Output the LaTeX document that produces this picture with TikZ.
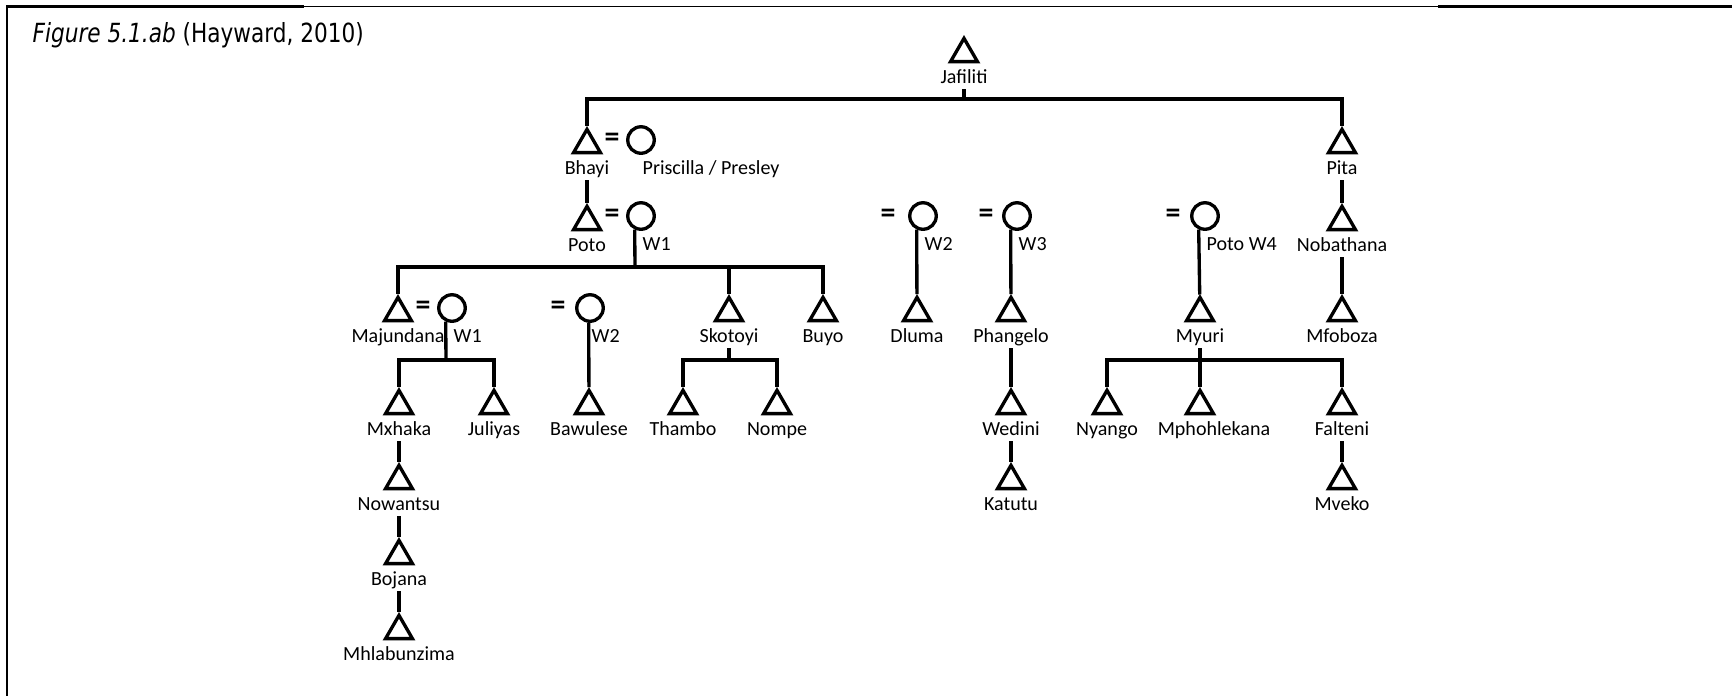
\documentclass[tikz,border=0pt]{standalone}
\usepackage{fontspec}
\setmainfont{Carlito}
\newfontfamily\titlefont[FakeStretch=0.82]{DejaVu Sans}
\usetikzlibrary{shapes.geometric}

\tikzset{
	male/.style={draw, regular polygon, regular polygon sides=3, minimum size=6.2mm, inner sep=0pt, anchor=north},
	female/.style={draw, circle, minimum size=5.3mm, inner sep=0pt},
	eq/.style={font=\fontsize{17pt}{19pt}\selectfont\bfseries, inner sep=0pt},
	every label/.style={font=\fontsize{11.4pt}{13pt}\selectfont, inner sep=0pt, text height=8pt, text depth=2.5pt},
	label distance=2.4pt
}

\begin{document}
\begin{tikzpicture}[x=0.2mm, y=-0.2mm, line width=1.9pt]
	\useasboundingbox (0,0) rectangle (1732,696);
	\draw[line width=1.2pt] (7.3,6.5) -- (7.3,696);
	\draw[line width=1.2pt] (6.3,6.5) -- (304,6.5);
	\draw[line width=0.8pt] (304,6.5) -- (1438,6.5);
	\draw[line width=1.2pt] (1438,6.5) -- (1732,6.5);
	\node[anchor=base west, inner sep=0pt, font=\titlefont\fontsize{15pt}{17pt}\selectfont] (title) at (31,42) {\textit{Figure 5.1.ab} (Hayward, 2010)};

	\node[male, label={[name=jafiliti-l]below:Jafiliti}] (jafiliti) at (964,35) {};

	\node[male, label={[name=bhayi-l]below:Bhayi}] (bhayi) at (587,126) {};
	\node[eq] (eq-bhayi) at (612,140) {=};
	\node[female, label={[name=priscilla-l, anchor=north west]below:Priscilla / Presley}] (priscilla) at (641,140) {};
	\node[male, label={[name=pita-l]below:Pita}] (pita) at (1342,126) {};

	\node[male, label={[name=poto-l]below:Poto}] (poto) at (587,203) {};
	\node[eq] (eq-poto) at (612,216) {=};
	\node[female, label={[anchor=north west]below:W1}] (potow1) at (641,216) {};
	\node[eq] (eq-w2) at (888,216) {=};
	\node[female, label={[anchor=north west]below:W2}] (potow2) at (923,216) {};
	\node[eq] (eq-w3) at (986,216) {=};
	\node[female, label={[anchor=north west]below:W3}] (potow3) at (1017,216) {};
	\node[eq] (eq-w4) at (1173,216) {=};
	\node[female, label={[anchor=north west]below:Poto W4}] (potow4) at (1205,216) {};
	\node[male, label={[name=nobathana-l]below:Nobathana}] (nobathana) at (1342,203) {};

	\node[male, label={[name=majundana-l]below:Majundana}] (majundana) at (398,294) {};
	\node[eq] (eq-maj) at (423,308) {=};
	\node[female, label={[anchor=north west]below:W1}] (majw1) at (452,308) {};
	\node[eq] (eq-baw) at (558,308) {=};
	\node[female, label={[anchor=north west]below:W2}] (bawm) at (590,308) {};
	\node[male, label={[name=skotoyi-l]below:Skotoyi}] (skotoyi) at (729,294) {};
	\node[male, label={[name=buyo-l]below:Buyo}] (buyo) at (823,294) {};
	\node[male, label={[name=dluma-l]below:Dluma}] (dluma) at (917,294) {};
	\node[male, label={[name=phangelo-l]below:Phangelo}] (phangelo) at (1011,294) {};
	\node[male, label={[name=myuri-l]below:Myuri}] (myuri) at (1200,294) {};
	\node[male, label={[name=mfoboza-l]below:Mfoboza}] (mfoboza) at (1342,294) {};

	\node[male, label={[name=mxhaka-l]below:Mxhaka}] (mxhaka) at (399,387) {};
	\node[male, label={[name=juliyas-l]below:Juliyas}] (juliyas) at (494,387) {};
	\node[male, label={[name=bawulese-l]below:Bawulese}] (bawulese) at (589,387) {};
	\node[male, label={[name=thambo-l]below:Thambo}] (thambo) at (683,387) {};
	\node[male, label={[name=nompe-l]below:Nompe}] (nompe) at (777,387) {};
	\node[male, label={[name=wedini-l]below:Wedini}] (wedini) at (1011,387) {};
	\node[male, label={[name=nyango-l]below:Nyango}] (nyango) at (1107,387) {};
	\node[male, label={[name=mphohlekana-l, xshift=2.8mm]below:Mphohlekana}] (mphohlekana) at (1200,387) {};
	\node[male, label={[name=falteni-l]below:Falteni}] (falteni) at (1342,387) {};

	\node[male, label={[name=nowantsu-l]below:Nowantsu}] (nowantsu) at (399,462) {};
	\node[male, label={[name=katutu-l]below:Katutu}] (katutu) at (1011,462) {};
	\node[male, label={[name=mveko-l]below:Mveko}] (mveko) at (1342,462) {};
	\node[male, label={[name=bojana-l]below:Bojana}] (bojana) at (399,537) {};
	\node[male, label={[name=mhlabunzima-l]below:Mhlabunzima}] (mhlabunzima) at (399,612) {};

	\coordinate (bar0) at (964,99);
	\coordinate (bar1) at (635,267);
	\coordinate (bar2) at (446,360);
	\coordinate (bar3) at (729,360);
	\coordinate (bar4) at (1200,360);

	\draw (jafiliti-l) -- (bar0);
	\draw (bhayi.north) |- (bar0) -| (pita.north);
	\draw (bhayi-l) -- (poto);
	\draw (pita-l) -- (nobathana);
	\draw (nobathana-l) -- (mfoboza);
	\draw (potow1.245) -- (bar1);
	\draw (majundana.north) |- (bar1) -| (buyo.north);
	\draw (skotoyi.north) -- (skotoyi.north |- bar1);
	\draw (majw1.245) -- (bar2);
	\draw (mxhaka.north) |- (bar2) -| (juliyas.north);
	\draw (bawm.265) -- (bawulese);
	\draw (skotoyi-l) -- (bar3);
	\draw (thambo.north) |- (bar3) -| (nompe.north);
	\draw (potow2.245) -- (dluma);
	\draw (potow3.245) -- (phangelo);
	\draw (phangelo-l) -- (wedini);
	\draw (wedini-l) -- (katutu);
	\draw (potow4.245) -- (myuri);
	\draw (myuri-l) -- (mphohlekana);
	\draw (nyango.north) |- (bar4) -| (falteni.north);
	\draw (falteni-l) -- (mveko);
	\draw (mxhaka-l) -- (nowantsu);
	\draw (nowantsu-l) -- (bojana);
	\draw (bojana-l) -- (mhlabunzima);
\end{tikzpicture}
\end{document}
